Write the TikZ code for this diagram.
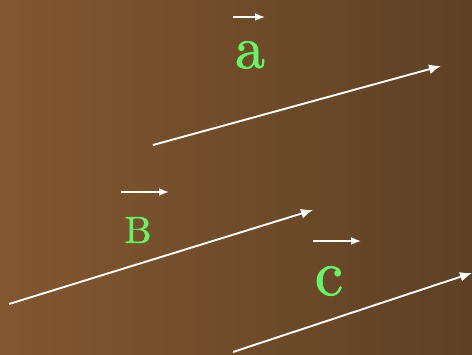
\documentclass[tikz,border=0pt]{standalone}
\usepackage{fontspec}
\newfontfamily\lmten[FakeBold=1.2]{lmroman10-regular.otf}
\usetikzlibrary{arrows.meta}
\definecolor{bgleft}{RGB}{130,87,48}
\definecolor{bgright}{RGB}{94,64,36}
\definecolor{lettergreen}{RGB}{102,245,102}
\begin{document}
\begin{tikzpicture}[x=1pt,y=-1pt,
  vec/.style={draw=white,line width=1.9pt,-{Latex[length=12pt,width=10pt]}},
  svec/.style={draw=white,line width=1.7pt,-{Latex[length=10pt,width=8pt]}},
  letter/.style={text=lettergreen,inner sep=0pt}]
\shade[left color=bgleft,right color=bgright] (0,0) rectangle (472,355);
\useasboundingbox (0,0) rectangle (472,355);
% long arrows
\coordinate (a1) at (153,145); \coordinate (a2) at (441,66);
\coordinate (b1) at (9,304);   \coordinate (b2) at (313,210);
\coordinate (c1) at (233,352); \coordinate (c2) at (472,273);
\draw[vec] (a1) -- (a2);
\draw[vec] (b1) -- (b2);
\draw[vec] (c1) -- (c2);
% short arrows
\coordinate (sa1) at (233,17);  \coordinate (sa2) at (265,17);
\coordinate (sb1) at (121,192); \coordinate (sb2) at (169,192);
\coordinate (sc1) at (313,241); \coordinate (sc2) at (361,241);
\draw[svec] (sa1) -- (sa2);
\draw[svec] (sb1) -- (sb2);
\draw[svec] (sc1) -- (sc2);
% letters
\node[letter,font=\lmten\fontsize{60}{60}\selectfont,anchor=base] (la) at (250,68) {a};
\node[letter,font=\lmten\fontsize{38}{38}\selectfont,anchor=base] (lb) at (138,243) {B};
\node[letter,font=\lmten\fontsize{64}{64}\selectfont,anchor=base] (lc) at (329,295) {c};
\end{tikzpicture}
\end{document}
